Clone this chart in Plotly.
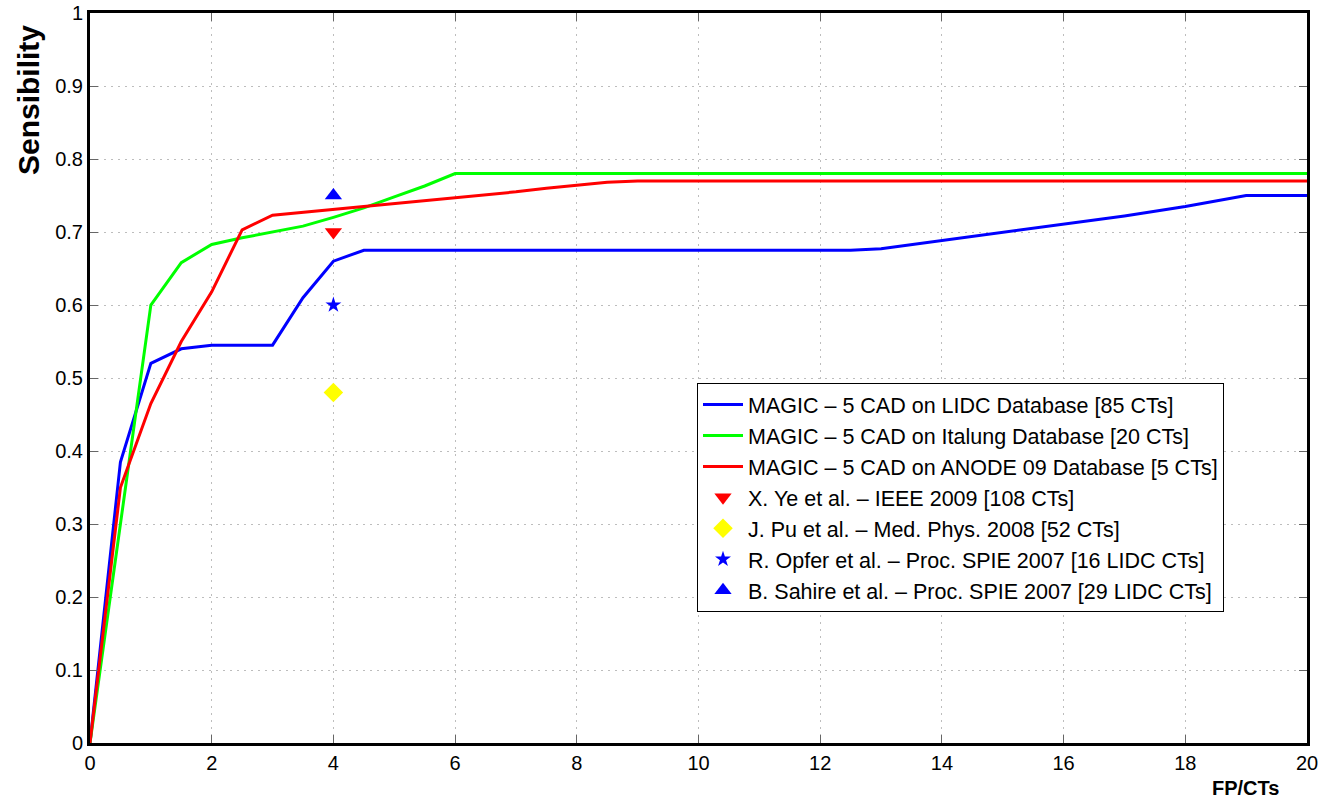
import plotly.graph_objects as go

# Blue: MAGIC-5 CAD on LIDC
lidc_x = [0, 0.5, 1, 1.5, 2, 3, 3.5, 4, 4.5, 12.5, 13, 14, 15, 16, 17, 18, 19, 20]
lidc_y = [0, 0.385, 0.52, 0.54, 0.545, 0.545, 0.61, 0.66, 0.675, 0.675, 0.677, 0.688, 0.70, 0.71, 0.722, 0.735, 0.75, 0.75]

# Green: MAGIC-5 CAD on Italung
italung_x = [0, 1, 1.5, 2, 2.5, 3, 3.5, 4, 4.5, 5, 5.5, 6, 20]
italung_y = [0, 0.60, 0.658, 0.683, 0.692, 0.70, 0.708, 0.72, 0.733, 0.748, 0.763, 0.78, 0.78]

# Red: MAGIC-5 CAD on ANODE 09
anode_x = [0, 0.5, 1, 1.5, 2, 2.5, 3, 3.5, 4, 4.5, 5, 5.5, 6, 6.5, 7, 7.5, 8, 8.5, 9, 20]
anode_y = [0, 0.35, 0.465, 0.55, 0.618, 0.703, 0.723, 0.727, 0.731, 0.735, 0.738, 0.742, 0.747, 0.751, 0.755, 0.76, 0.764, 0.768, 0.77, 0.77]

# Single reference points
ref_names = ["X. Ye et al. – IEEE 2009 [108 CTs]",
             "J. Pu et al. – Med. Phys. 2008 [52 CTs]",
             "R. Opfer et al. – Proc. SPIE 2007 [16 LIDC CTs]",
             "B. Sahire et al. – Proc. SPIE 2007 [29 LIDC CTs]"]
ref_x = [4, 4, 4, 4]
ref_y = [0.70, 0.48, 0.60, 0.75]
ref_symbols = ["triangle-down", "diamond", "star", "triangle-up"]
ref_colors = ["#ff0000", "#ffff00", "#0000ff", "#0000ff"]
ref_sizes = [15, 15, 12, 15]

line_names = ["MAGIC – 5 CAD on LIDC Database [85 CTs]",
              "MAGIC – 5 CAD on Italung Database [20 CTs]",
              "MAGIC – 5 CAD on ANODE 09 Database [5 CTs]"]

x_ticks = list(range(0, 21, 2))
y_ticks = [round(i * 0.1, 1) for i in range(11)]
y_tick_text = ["0", "0.1", "0.2", "0.3", "0.4", "0.5", "0.6", "0.7", "0.8", "0.9", "1"]

fig = go.Figure()
for xs, ys, name, col in [(lidc_x, lidc_y, line_names[0], "#0000ff"),
                          (italung_x, italung_y, line_names[1], "#00ff00"),
                          (anode_x, anode_y, line_names[2], "#ff0000")]:
    fig.add_trace(go.Scatter(x=xs, y=ys, mode="lines", name=name,
                             line=dict(color=col, width=3)))

for name, x, y, sym, col, sz in zip(ref_names, ref_x, ref_y, ref_symbols, ref_colors, ref_sizes):
    fig.add_trace(go.Scatter(x=[x], y=[y], mode="markers", name=name,
                             marker=dict(symbol=sym, color=col, size=sz, line=dict(width=0))))

font_family = "Liberation Sans, Arial, sans-serif"
grid_dash = "2px,5px"

W, H = 1321, 802
L, T = 90, 13
PW, PH = 1217, 730

def px_x(p):  # window pixel -> paper x
    return (p - L) / PW

def px_y(p):  # window pixel -> paper y
    return (T + PH - p) / PH

fig.update_layout(
    width=W, height=H,
    margin=dict(l=L, r=W - L - PW, t=T, b=H - T - PH),
    paper_bgcolor="white", plot_bgcolor="white",
    font=dict(family=font_family, size=20, color="black"),
    showlegend=True,
    legend=dict(x=px_x(697), y=px_y(383), xanchor="left", yanchor="top",
                bgcolor="white", bordercolor="black", borderwidth=1,
                font=dict(size=21.5), tracegroupgap=0, itemwidth=40),
    xaxis=dict(range=[0, 20], tickvals=x_ticks, ticks="inside", ticklen=8,
               tickcolor="#666666", showline=True, linecolor="black", linewidth=3,
               mirror="ticks", showgrid=True, gridcolor="#bdbdbd", griddash=grid_dash,
               gridwidth=1, zeroline=False, tickfont=dict(size=20), automargin=False),
    yaxis=dict(range=[0, 1], tickvals=y_ticks, ticktext=y_tick_text, ticks="inside", ticklen=8,
               tickcolor="#666666", showline=True, linecolor="black", linewidth=3,
               mirror="ticks", showgrid=True, gridcolor="#bdbdbd", griddash=grid_dash,
               gridwidth=1, zeroline=False, tickfont=dict(size=20), automargin=False),
    annotations=[
        dict(text="<b>FP/CTs</b>", x=px_x(1245), y=px_y(788),
             xref="paper", yref="paper", xanchor="center", yanchor="middle",
             showarrow=False, font=dict(size=20)),
        dict(text="<b>Sensibility</b>", x=px_x(28), y=px_y(100),
             xref="paper", yref="paper", xanchor="center", yanchor="middle",
             textangle=-90, showarrow=False, font=dict(size=30)),
    ],
)

fig.write_html("out.html", config={"displayModeBar": False},
               post_script="document.body.style.margin='0';document.body.style.overflow='hidden';")
